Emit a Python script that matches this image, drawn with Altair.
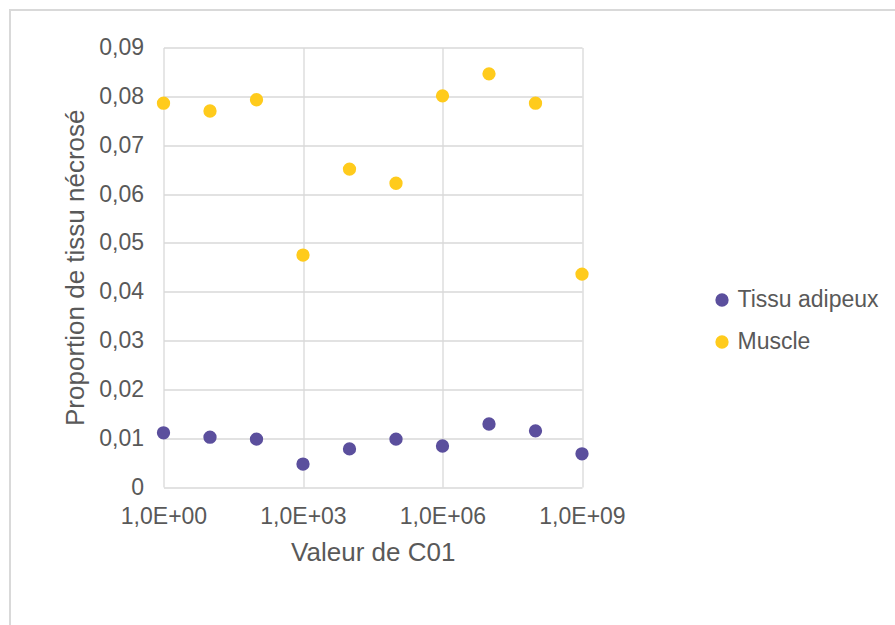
import altair as alt
import pandas as pd

c01_values = [1, 10, 100, 1e3, 1e4, 1e5, 1e6, 1e7, 1e8, 1e9]
tissu_adipeux = [0.0111, 0.0102, 0.0098, 0.0047, 0.0078, 0.0098, 0.0084, 0.0129, 0.0115, 0.0068]
muscle = [0.0786, 0.0770, 0.0793, 0.0475, 0.0651, 0.0622, 0.0801, 0.0846, 0.0786, 0.0436]
series_names = ["Tissu adipeux", "Muscle"]
series_colors = ["#5B4F9D", "#FFCB1C"]
x_ticks = [1, 1e3, 1e6, 1e9]
y_ticks = [0, 0.01, 0.02, 0.03, 0.04, 0.05, 0.06, 0.07, 0.08, 0.09]

rows = []
for x, v in zip(c01_values, tissu_adipeux):
    rows.append({"x": x, "y": v, "serie": series_names[0]})
for x, v in zip(c01_values, muscle):
    rows.append({"x": x, "y": v, "serie": series_names[1]})
df = pd.DataFrame(rows)

GRAY = "#595959"
GRID = "#D9D9D9"
FONT = "Liberation Sans"

points = alt.Chart(df).mark_circle(size=177, opacity=1).encode(
    x=alt.X(
        "x:Q",
        scale=alt.Scale(type="log", domain=[1, 1e9], nice=False),
        axis=alt.Axis(
            values=x_ticks,
            labelExpr="'1,0E+0' + round(log(datum.value)/LN10)",
            title="Valeur de C01",
            grid=True,
            gridColor=GRID,
            gridWidth=1.3,
            domain=False,
            ticks=False,
            labelFlush=False,
            labelOverlap=False,
            labelPadding=18,
            labelFontSize=23,
            labelColor=GRAY,
            labelFont=FONT,
            titleFontSize=26,
            titleFont=FONT,
            titleColor=GRAY,
            titleFontWeight="normal",
            titlePadding=11,
        ),
    ),
    y=alt.Y(
        "y:Q",
        scale=alt.Scale(domain=[0, 0.09], nice=False),
        axis=alt.Axis(
            values=y_ticks,
            labelExpr="datum.value == 0 ? '0' : replace(format(datum.value, '.2f'), '.', ',')",
            title="Proportion de tissu nécrosé",
            grid=True,
            gridColor=GRID,
            gridWidth=1.3,
            domain=False,
            ticks=False,
            labelFlush=False,
            labelOverlap=False,
            labelPadding=20,
            labelFontSize=23,
            labelColor=GRAY,
            labelFont=FONT,
            titleFontSize=26,
            titleFont=FONT,
            titleColor=GRAY,
            titleFontWeight="normal",
            titlePadding=10,
        ),
    ),
    color=alt.Color(
        "serie:N",
        scale=alt.Scale(domain=series_names, range=series_colors),
        legend=alt.Legend(
            title=None,
            orient="none",
            legendX=547,
            legendY=241,
            padding=0,
            symbolType="circle",
            symbolSize=177,
            symbolOpacity=1,
            labelFontSize=23,
            labelFont=FONT,
            labelColor=GRAY,
            labelOffset=4,
            rowPadding=18,
        ),
    ),
)

border = alt.Chart(df).mark_rect(fill="transparent", stroke=GRID, strokeWidth=1.5).encode(
    x=alt.value(-153.5),
    x2=alt.value(800),
    y=alt.value(-37.5),
    y2=alt.value(700),
)

chart = alt.layer(border, points).properties(
    width=418.5,
    height=439.5,
    autosize=alt.AutoSizeParams(type="none"),
    padding={"left": 163.5, "top": 47.5, "right": 313, "bottom": 138},
    background="white",
).configure_view(stroke=None)

chart.save("out.html", embed_options={"renderer": "svg", "actions": False})
